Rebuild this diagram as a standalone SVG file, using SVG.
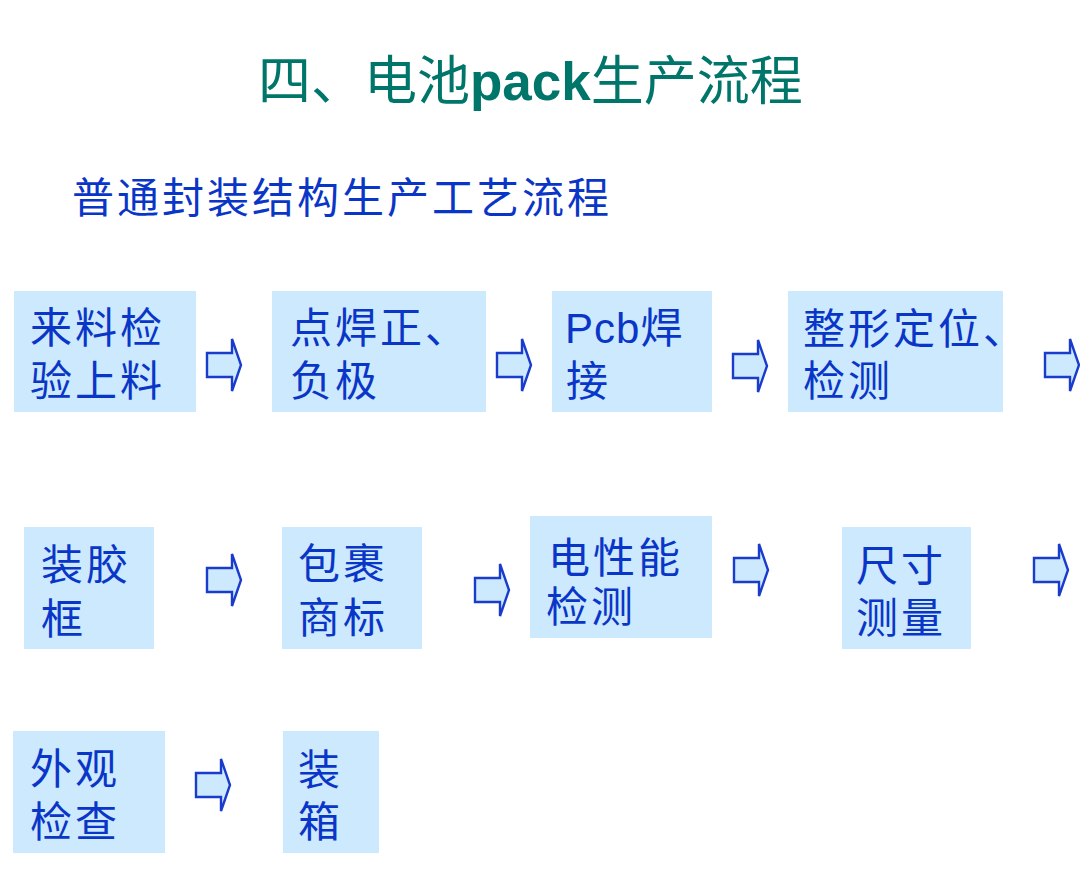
<svg xmlns="http://www.w3.org/2000/svg" width="1080" height="872" viewBox="0 0 1080 872">
<style>
.box{fill:#cce9fe}
.t{font-family:"Noto Sans CJK SC","Liberation Sans",sans-serif;font-size:42px;letter-spacing:3px;fill:#0a36c8}
.lat{font-family:"Liberation Sans",Arial,sans-serif}
.title{font-family:"Noto Sans CJK SC","Liberation Sans",sans-serif;font-size:53px;fill:#00766a}
.arrow{fill:#cce9fe;stroke:#1a3ccc;stroke-width:2.4;stroke-linejoin:miter}
</style>
<defs>
<path id="arr" d="M0,-12 H25 V-26 L34,0 L25,26 V12 H0 Z"/>
</defs>
<rect width="1080" height="872" fill="#ffffff"/>
<g id="title">
<text class="title" x="258" y="100">四、电池<tspan class="lat" font-weight="bold">pack</tspan>生产流程</text>
</g>
<g id="subtitle">
<text class="t" x="72" y="213">普通封装结构生产工艺流程</text>
</g>
<g id="n1"><rect class="box" x="14" y="291" width="182" height="121"/><text class="t" x="30" y="343">来料检</text><text class="t" x="30" y="396">验上料</text></g>
<g id="n2"><rect class="box" x="272" y="291" width="214" height="121"/><text class="t" x="290" y="343">点焊正、</text><text class="t" x="290" y="396">负极</text></g>
<g id="n3"><rect class="box" x="552" y="291" width="160" height="121"/><text class="t" x="565" y="343"><tspan class="lat" letter-spacing="1">Pcb</tspan>焊</text><text class="t" x="566" y="396">接</text></g>
<g id="n4"><rect class="box" x="788" y="291" width="215" height="121"/><text class="t" x="803" y="344">整形定位、</text><text class="t" x="803" y="396">检测</text></g>
<g id="n5"><rect class="box" x="24" y="527" width="130" height="122"/><text class="t" x="41" y="580">装胶</text><text class="t" x="41" y="634">框</text></g>
<g id="n6"><rect class="box" x="282" y="527" width="140" height="122"/><text class="t" x="298" y="579">包裹</text><text class="t" x="298" y="633">商标</text></g>
<g id="n7"><rect class="box" x="530" y="516" width="182" height="122"/><text class="t" x="548" y="573">电性能</text><text class="t" x="546" y="622">检测</text></g>
<g id="n8"><rect class="box" x="842" y="527" width="129" height="122"/><text class="t" x="856" y="581">尺寸</text><text class="t" x="856" y="633">测量</text></g>
<g id="n9"><rect class="box" x="13" y="731" width="152" height="122"/><text class="t" x="30" y="784">外观</text><text class="t" x="30" y="837">检查</text></g>
<g id="n10"><rect class="box" x="283" y="731" width="96" height="122"/><text class="t" x="298" y="785">装</text><text class="t" x="298" y="837">箱</text></g>
<g id="connectors">
<use href="#arr" class="arrow" x="207" y="365"/>
<use href="#arr" class="arrow" x="497" y="365"/>
<use href="#arr" class="arrow" x="733" y="366"/>
<use href="#arr" class="arrow" x="1045" y="365"/>
<use href="#arr" class="arrow" x="207" y="580"/>
<use href="#arr" class="arrow" x="475" y="590"/>
<use href="#arr" class="arrow" x="734" y="570"/>
<use href="#arr" class="arrow" x="1034" y="570"/>
<use href="#arr" class="arrow" x="196" y="785"/>
</g>
</svg>
